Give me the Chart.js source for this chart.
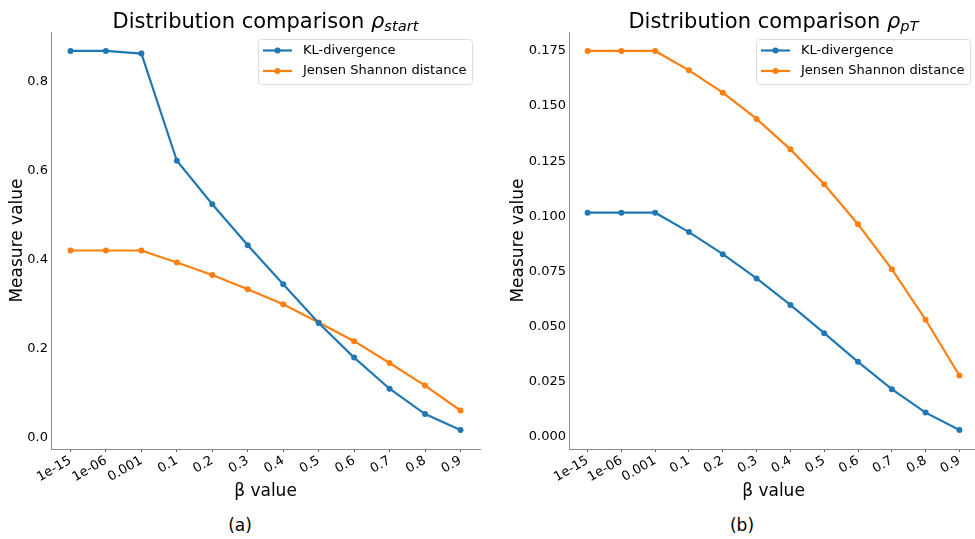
<!DOCTYPE html>
<html>
<head>
<meta charset="utf-8">
<script src="https://cdn.jsdelivr.net/npm/chart.js@4.4.1/dist/chart.umd.min.js"></script>
<style>
    body { margin: 0; background: #fff; }
    #wrap { position: relative; width: 975px; height: 539px; overflow: hidden; font-family: 'DejaVu Sans', sans-serif; }
    .box { position: absolute; top: 0; height: 505px; }
    #boxA { left: 0; width: 487px; }
    #boxB { left: 487px; width: 495px; }
    .caption { position: absolute; top: 515px; width: 60px; font-size: 17px; text-align: center; color: #000; }
</style>
</head>
<body>
<div id="wrap">
    <div class="box" id="boxA"><canvas id="chartStart"></canvas></div>
    <div class="box" id="boxB"><canvas id="chartPt"></canvas></div>
    <div class="caption" style="left:210px">(a)</div>
    <div class="caption" style="left:712px">(b)</div>
</div>
<script>
// beta values on the x axis
const betaLabels = ['1e-15', '1e-06', '0.001', '0.1', '0.2', '0.3', '0.4', '0.5', '0.6', '0.7', '0.8', '0.9'];

// (a) rho_start
const klStart = [0.869, 0.869, 0.863, 0.622, 0.524, 0.432, 0.344, 0.257, 0.179, 0.109, 0.052, 0.016];
const jsStart = [0.420, 0.420, 0.420, 0.393, 0.365, 0.333, 0.299, 0.258, 0.216, 0.167, 0.116, 0.060];
const yTicksStart = [0, 0.2, 0.4, 0.6, 0.8];

// (b) rho_pT
const klPt = [0.1017, 0.1017, 0.1017, 0.0929, 0.0829, 0.0719, 0.0599, 0.0471, 0.0341, 0.0217, 0.0111, 0.0032];
const jsPt = [0.1750, 0.1750, 0.1750, 0.1662, 0.1561, 0.1442, 0.1304, 0.1146, 0.0965, 0.0761, 0.0532, 0.0279];
const yTicksPt = [0, 0.025, 0.05, 0.075, 0.1, 0.125, 0.15, 0.175];

const FONT = "'DejaVu Sans'";
const BLUE = '#1f77b4';
const ORANGE = '#ff7f0e';

// title with an italic rho and subscript, like matplotlib mathtext
const mathTitle = {
    id: 'mathTitle',
    afterDraw(chart, args, o) {
        const ctx = chart.ctx;
        const parts = [
            { t: o.text, f: `21px ${FONT}`, dy: 0 },
            { t: 'ρ', f: `italic 21px ${FONT}`, dy: 0 },
            { t: o.sub, f: `italic 14.7px ${FONT}`, dy: 3 }
        ];
        ctx.save();
        let w = 0;
        parts.forEach(p => { ctx.font = p.f; p.w = ctx.measureText(p.t).width; w += p.w; });
        let x = (chart.chartArea.left + chart.chartArea.right) / 2 - w / 2;
        ctx.fillStyle = '#000';
        ctx.textBaseline = 'alphabetic';
        parts.forEach(p => { ctx.font = p.f; ctx.fillText(p.t, x, o.y + p.dy); x += p.w; });
        ctx.restore();
    }
};

// framed legend inside the axes, upper right
const boxLegend = {
    id: 'boxLegend',
    afterDraw(chart) {
        const ctx = chart.ctx;
        const area = chart.chartArea;
        const sets = chart.data.datasets;
        ctx.save();
        ctx.font = `13px ${FONT}`;
        const textW = Math.max(...sets.map(d => ctx.measureText(d.label).width));
        const w = Math.round(45 + textW + 5), h = 45;
        const x = Math.round(area.right - 8 - w), y = Math.round(area.top + 7);

        ctx.fillStyle = 'rgba(255,255,255,0.8)';
        ctx.strokeStyle = '#dddddd';
        ctx.lineWidth = 1;
        ctx.beginPath();
        ctx.roundRect(x + 0.5, y + 0.5, w, h, 3);
        ctx.fill();
        ctx.stroke();

        sets.forEach((d, i) => {
            const cy = y + 11.5 + i * 20.5;
            ctx.strokeStyle = d.borderColor;
            ctx.lineWidth = 2.2;
            ctx.beginPath();
            ctx.moveTo(x + 5, cy);
            ctx.lineTo(x + 34, cy);
            ctx.stroke();
            ctx.fillStyle = d.borderColor;
            ctx.beginPath();
            ctx.arc(x + 19.5, cy, 3, 0, Math.PI * 2);
            ctx.fill();
            ctx.fillStyle = '#000';
            ctx.textBaseline = 'middle';
            ctx.fillText(d.label, x + 45, cy);
        });
        ctx.restore();
    }
};

function series(values) {
    return values.map((v, i) => ({ x: i, y: v }));
}

function dataset(label, values, color) {
    return {
        label,
        data: series(values),
        borderColor: color,
        backgroundColor: color,
        pointBackgroundColor: color,
        borderWidth: 2.2,
        pointRadius: 3,
        pointBorderWidth: 0,
        tension: 0
    };
}

function makeChart(id, kl, js, yTicks, decimals, sub, yWidth, yTitlePad, padRight) {
    const all = kl.concat(js);
    const lo = Math.min(...all), hi = Math.max(...all);
    const margin = (hi - lo) * 0.05;

    new Chart(document.getElementById(id), {
        type: 'line',
        data: {
            datasets: [
                dataset('KL-divergence', kl, BLUE),
                dataset('Jensen Shannon distance', js, ORANGE)
            ]
        },
        options: {
            responsive: true,
            maintainAspectRatio: false,
            animation: false,
            devicePixelRatio: 1,
            layout: { padding: { top: 32, right: padRight, left: 0, bottom: 0 } },
            plugins: {
                legend: { display: false },
                tooltip: { enabled: false },
                mathTitle: { text: 'Distribution comparison ', sub, y: 28 }
            },
            scales: {
                x: {
                    type: 'linear',
                    min: -0.55,
                    max: betaLabels.length - 1 + 0.55,
                    afterBuildTicks: s => { s.ticks = betaLabels.map((_, i) => ({ value: i })); },
                    afterFit: s => { s.height = 56; },
                    ticks: {
                        callback: v => betaLabels[v],
                        minRotation: 30,
                        maxRotation: 30,
                        autoSkip: false,
                        padding: 1,
                        color: '#000',
                        font: { family: FONT, size: 13 }
                    },
                    grid: { drawOnChartArea: false, drawTicks: true, tickLength: 3, color: '#555' },
                    border: { color: '#8c8c8c', width: 1 },
                    title: {
                        display: true,
                        text: 'β value',
                        color: '#000',
                        font: { family: FONT, size: 17 },
                        padding: { top: 0, bottom: 3 }
                    }
                },
                y: {
                    min: lo - margin,
                    max: hi + margin,
                    afterBuildTicks: s => { s.ticks = yTicks.map(v => ({ value: v })); },
                    afterFit: s => { s.width = yWidth; },
                    ticks: {
                        callback: v => v.toFixed(decimals),
                        padding: 3,
                        color: '#000',
                        font: { family: FONT, size: 13 }
                    },
                    grid: { drawOnChartArea: false, drawTicks: false },
                    border: { color: '#8c8c8c', width: 1 },
                    title: {
                        display: true,
                        text: 'Measure value',
                        color: '#000',
                        font: { family: FONT, size: 17 },
                        padding: { top: yTitlePad, bottom: 0 }
                    }
                }
            }
        },
        plugins: [mathTitle, boxLegend]
    });
}

makeChart('chartStart', klStart, jsStart, yTicksStart, 1, 'start', 51, 7, 7);
makeChart('chartPt', klPt, jsPt, yTicksPt, 3, 'pT', 82, 21, 0);
</script>
</body>
</html>
